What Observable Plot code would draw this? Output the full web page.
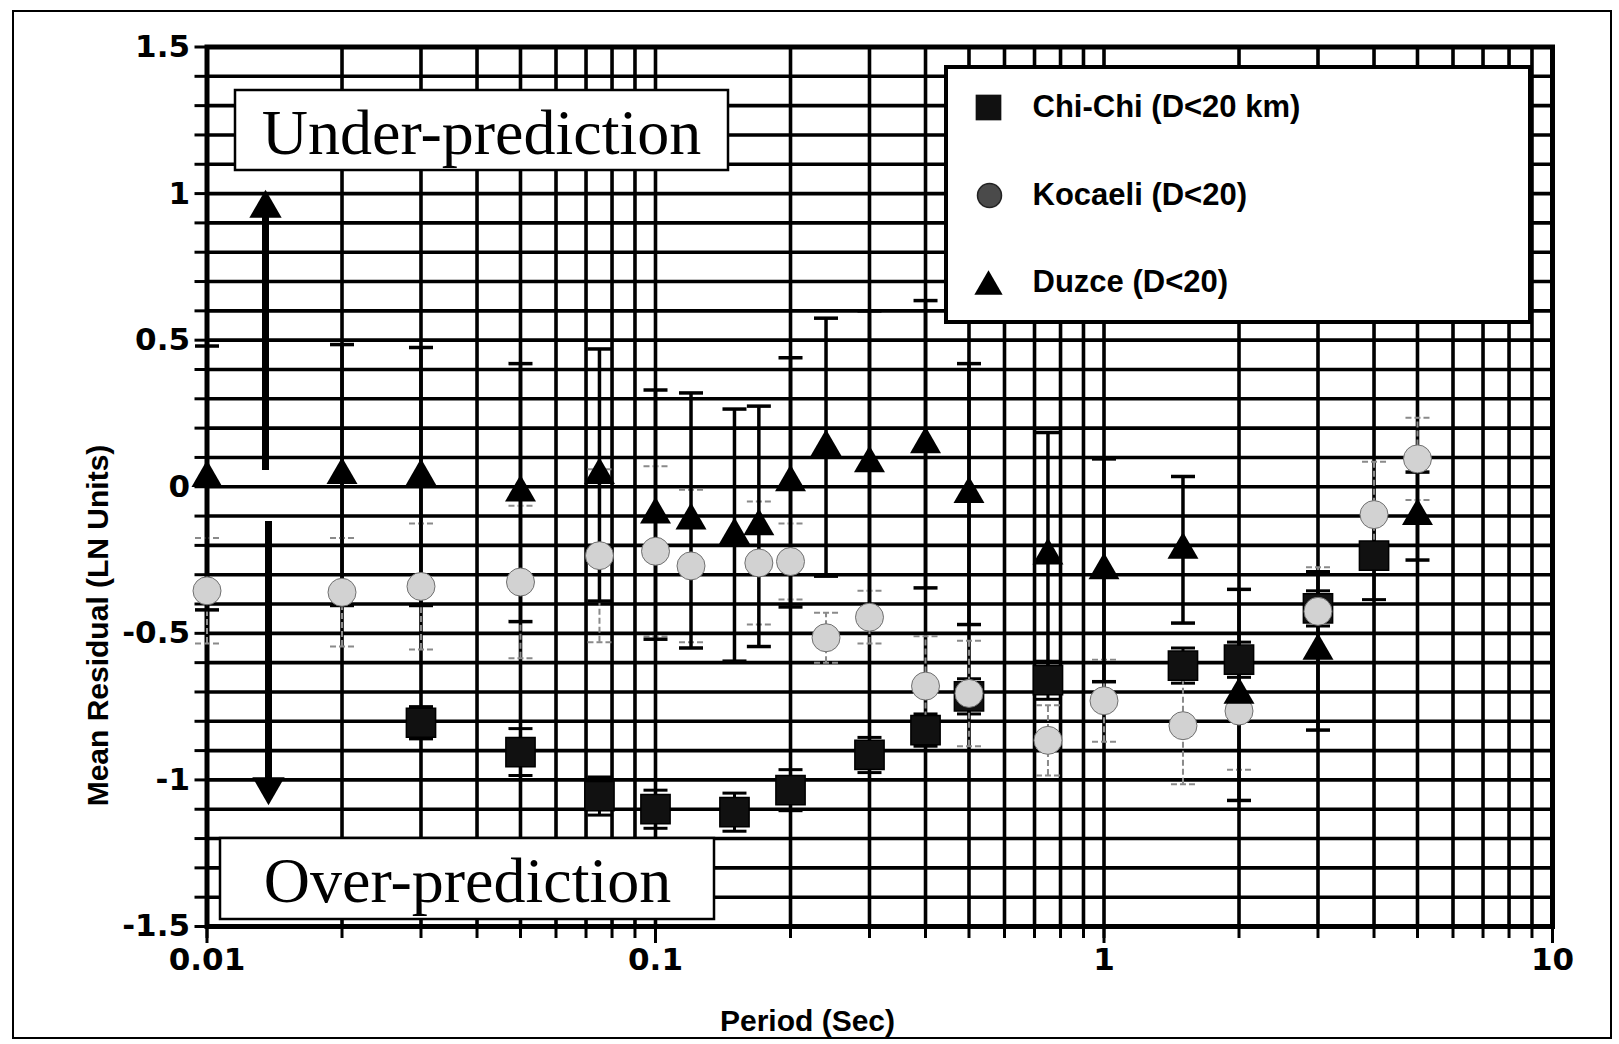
<!DOCTYPE html>
<html><head><meta charset="utf-8">
<script src="https://cdn.jsdelivr.net/npm/d3@7"></script>
<script src="https://cdn.jsdelivr.net/npm/@observablehq/plot@0.6"></script>
<style>
html,body{margin:0;padding:0;background:#fff;}
#wrap{position:relative;width:1619px;height:1044px;overflow:hidden;}
#border{position:absolute;left:12px;top:10px;width:1600px;height:1029px;border:2.5px solid #000;box-sizing:border-box;pointer-events:none;}
</style></head>
<body><div id="wrap"><div id="border"></div></div>
<script>
// ---------------- data ----------------
const seriesNames = ["Chi-Chi (D<20 km)", "Kocaeli (D<20)", "Duzce (D<20)"];

const chiPeriod = [0.03, 0.05, 0.075, 0.1, 0.15, 0.2, 0.3, 0.4, 0.5, 0.75, 1.5, 2, 3, 4];
const chiMean   = [-0.805, -0.905, -1.055, -1.10, -1.11, -1.035, -0.915, -0.83, -0.715, -0.66, -0.61, -0.59, -0.415, -0.235];
const chiSd     = [0.055, 0.08, 0.065, 0.065, 0.065, 0.07, 0.06, 0.055, 0.06, 0.065, 0.06, 0.06, 0.06, 0.15];

const kocPeriod = [0.01, 0.02, 0.03, 0.05, 0.075, 0.1, 0.12, 0.17, 0.2, 0.24, 0.3, 0.4, 0.5, 0.75, 1, 1.5, 2, 3, 4, 5];
const kocMean   = [-0.355, -0.36, -0.34, -0.325, -0.235, -0.22, -0.27, -0.26, -0.255, -0.515, -0.445, -0.68, -0.705, -0.865, -0.73, -0.815, -0.765, -0.425, -0.095, 0.095];
const kocSd     = [0.18, 0.185, 0.215, 0.26, 0.295, 0.29, 0.26, 0.21, 0.13, 0.085, 0.09, 0.17, 0.18, 0.12, 0.14, 0.2, 0.2, 0.15, 0.18, 0.14];

const duzPeriod = [0.01, 0.02, 0.03, 0.05, 0.075, 0.1, 0.12, 0.15, 0.17, 0.2, 0.24, 0.3, 0.4, 0.5, 0.75, 1, 1.5, 2, 3, 5];
const duzMean   = [0.03, 0.04, 0.035, -0.02, 0.04, -0.095, -0.115, -0.165, -0.135, 0.015, 0.135, 0.08, 0.145, -0.025, -0.235, -0.285, -0.215, -0.71, -0.56, -0.10];
const duzSd     = [0.45, 0.445, 0.44, 0.44, 0.43, 0.425, 0.435, 0.43, 0.41, 0.425, 0.44, 0.52, 0.49, 0.445, 0.42, 0.38, 0.25, 0.36, 0.27, 0.15];

const xGrid = [0.01,0.02,0.03,0.04,0.05,0.06,0.07,0.08,0.09,
               0.1,0.2,0.3,0.4,0.5,0.6,0.7,0.8,0.9,
               1,2,3,4,5,6,7,8,9,10];
const xMajor = [0.01, 0.1, 1, 10];
const xMajorLabels = ["0.01", "0.1", "1", "10"];
const yGrid = [-1.5,-1.4,-1.3,-1.2,-1.1,-1,-0.9,-0.8,-0.7,-0.6,-0.5,-0.4,-0.3,-0.2,-0.1,0,
               0.1,0.2,0.3,0.4,0.5,0.6,0.7,0.8,0.9,1,1.1,1.2,1.3,1.4,1.5];
const yMajor = [-1.5, -1, -0.5, 0, 0.5, 1, 1.5];
const yMajorLabels = ["-1.5", "-1", "-0.5", "0", "0.5", "1", "1.5"];

const xTitle = "Period (Sec)";
const yTitle = "Mean Residual (LN Units)";
const underText = "Under-prediction";
const overText = "Over-prediction";

// ---------------- layout ----------------
const W = 1619, H = 1044, ML = 206.5, MR = 67, MT = 46.5, MB = 118;
const decPx = (W - ML - MR) / 3;
const unitPx = (H - MT - MB) / 3;
const X = px => Math.pow(10, -2 + (px - ML) / decPx);
const Y = py => 1.5 - (py - MT) / unitPx;

const rows = (p, m, s) => p.map((d, i) => ({period: d, mean: m[i], sd: s[i]}));
const chi = rows(chiPeriod, chiMean, chiSd);
const koc = rows(kocPeriod, kocMean, kocSd);
const duz = rows(duzPeriod, duzMean, duzSd);

const cap = {draw(ctx) { ctx.moveTo(-12, 0); ctx.lineTo(12, 0); }};

function errorBars(data, stroke, width, dash) {
  const o = {x: "period", stroke, strokeWidth: width, strokeDasharray: dash};
  return [
    Plot.ruleX(data, {...o, y1: d => d.mean - d.sd, y2: d => d.mean + d.sd}),
    Plot.dot(data, {...o, y: d => d.mean + d.sd, symbol: cap, fill: "none"}),
    Plot.dot(data, {...o, y: d => d.mean - d.sd, symbol: cap, fill: "none"})
  ];
}

const label = (arr, labels) => d => {
  const i = arr.findIndex(v => Math.abs(v - d) < 1e-9);
  return i >= 0 ? labels[i] : "";
};

const serif = "'Liberation Serif', 'Times New Roman', serif";
const tickFont = "'DejaVu Sans', 'Liberation Sans', sans-serif";
const one = [0];

const chart = Plot.plot({
  width: W, height: H,
  marginLeft: ML, marginRight: MR, marginTop: MT, marginBottom: MB,
  x: {type: "log", domain: [0.01, 10]},
  y: {domain: [-1.5, 1.5]},
  style: {fontFamily: "'Liberation Sans', Arial, sans-serif", fontWeight: "bold", background: "#fff", color: "#000", overflow: "visible"},
  marks: [
    // grid
    Plot.ruleX(xGrid, {stroke: "#000", strokeWidth: 3.6}),
    Plot.ruleY(yGrid, {stroke: "#000", strokeWidth: 3.6}),
    Plot.frame({stroke: "#000", strokeWidth: 5}),
    // axes
    Plot.axisX({ticks: xGrid, tickSize: 12, strokeWidth: 3, tickFormat: () => "", label: null}),
    Plot.axisX({ticks: xMajor, tickSize: 17, tickPadding: 4, strokeWidth: 3, tickFormat: label(xMajor, xMajorLabels), fontFamily: tickFont, fontSize: 31, label: null}),
    Plot.axisY({ticks: yGrid, tickSize: 12, tickPadding: 5, strokeWidth: 3, tickFormat: label(yMajor, yMajorLabels), fontFamily: tickFont, fontSize: 31, label: null}),
    // axis titles
    Plot.text([xTitle], {x: () => X(807), y: () => Y(1021), text: d => d, fontSize: 30, lineAnchor: "middle"}),
    Plot.text([yTitle], {x: () => X(98), y: () => Y(625), text: d => d, fontSize: 30, rotate: -90, lineAnchor: "middle"}),
    // arrows
    Plot.ruleX(one, {x: () => X(265), y1: () => Y(470), y2: () => Y(212), stroke: "#000", strokeWidth: 7}),
    Plot.dot(one, {x: () => X(265), y: () => Y(208), symbol: "triangle", r: 12, fill: "#000"}),
    Plot.ruleX(one, {x: () => X(268), y1: () => Y(521), y2: () => Y(782), stroke: "#000", strokeWidth: 7}),
    Plot.dot(one, {x: () => X(268), y: () => Y(786), symbol: "triangle", r: 12, rotate: 180, fill: "#000"}),
    // error bars
    ...errorBars(chi, "#000", 3),
    ...errorBars(koc, "#8a8a8a", 2, "6,3"),
    ...errorBars(duz, "#000", 3.5),
    // markers
    Plot.dot(chi, {x: "period", y: "mean", symbol: "square", r: 16.5, fill: "#111", stroke: "#000"}),
    Plot.dot(koc, {x: "period", y: "mean", symbol: "circle", r: 14, fill: "#d2d2d2", stroke: "#707070", strokeWidth: 1}),
    Plot.dot(duz, {x: "period", y: "mean", symbol: "triangle", r: 11.5, fill: "#000"}),
    // annotation boxes
    Plot.rect(one, {x1: () => X(235), x2: () => X(728), y1: () => Y(90), y2: () => Y(170), fill: "#fff", stroke: "#000", strokeWidth: 2.5}),
    Plot.text([underText], {x: () => X(481), y: () => Y(133), text: d => d, fontFamily: serif, fontWeight: "normal", fontSize: 64, lineAnchor: "middle"}),
    Plot.rect(one, {x1: () => X(220), x2: () => X(714), y1: () => Y(838), y2: () => Y(919), fill: "#fff", stroke: "#000", strokeWidth: 2.5}),
    Plot.text([overText], {x: () => X(467), y: () => Y(881), text: d => d, fontFamily: serif, fontWeight: "normal", fontSize: 64, lineAnchor: "middle"}),
    // legend
    Plot.rect(one, {x1: () => X(946), x2: () => X(1530), y1: () => Y(67), y2: () => Y(322), fill: "#fff", stroke: "#000", strokeWidth: 4}),
    Plot.dot(one, {x: () => X(988), y: () => Y(107), symbol: "square", r: 14.5, fill: "#111"}),
    Plot.dot(one, {x: () => X(989), y: () => Y(195), symbol: "circle", r: 12, fill: "#4a4a4a", stroke: "#222"}),
    Plot.dot(one, {x: () => X(988), y: () => Y(286), symbol: "triangle", r: 10.5, fill: "#000"}),
    Plot.text(seriesNames, {x: () => X(1032), y: (d, i) => Y([107, 195, 282][i]), text: d => d, textAnchor: "start", fontSize: 31, lineAnchor: "middle"})
  ]
});
document.getElementById("wrap").prepend(chart);
</script>
</body></html>
